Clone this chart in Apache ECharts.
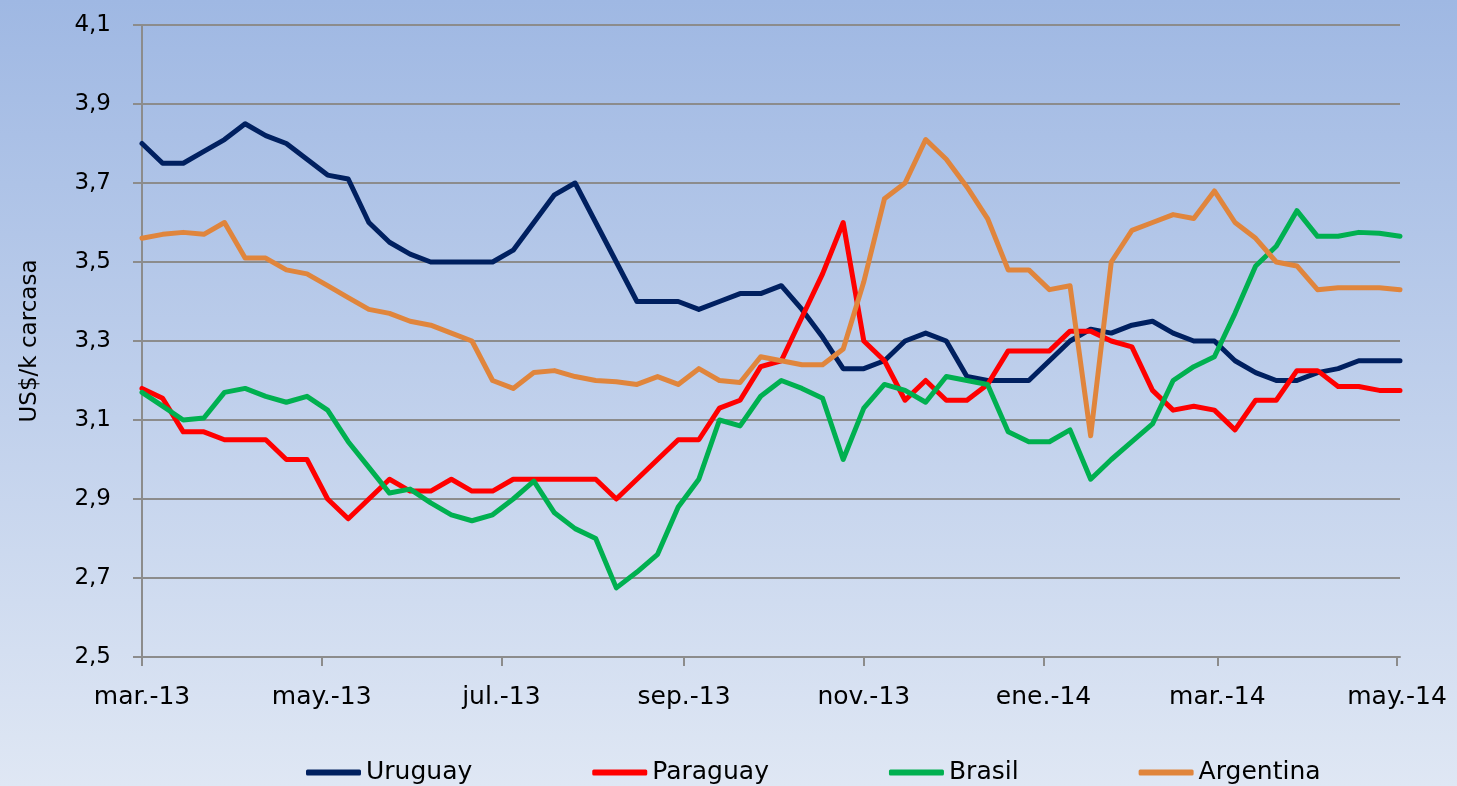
<!DOCTYPE html>
<html>
<head>
<meta charset="utf-8">
<title>Precio novillo US$/k carcasa</title>
<script src="https://cdn.jsdelivr.net/npm/echarts@6/dist/echarts.min.js"></script>
<style>
  html, body { margin: 0; padding: 0; }
  #main { width: 1457px; height: 786px; }
</style>
</head>
<body>
<div id="main"></div>
<script>
var DAY = 86400000;
// datos semanales, primera semana 1-mar-2013
var firstWeek = Date.UTC(2013, 2, 1);

// etiquetas del eje x (cada dos meses)
var tickDates = [
  Date.UTC(2013, 2, 1), Date.UTC(2013, 4, 1), Date.UTC(2013, 6, 1), Date.UTC(2013, 8, 1),
  Date.UTC(2013, 10, 1), Date.UTC(2014, 0, 1), Date.UTC(2014, 2, 1), Date.UTC(2014, 4, 1)
];
var tickLabels = ['mar.-13', 'may.-13', 'jul.-13', 'sep.-13', 'nov.-13', 'ene.-14', 'mar.-14', 'may.-14'];

var uruguay = [
  3.80, 3.75, 3.75, 3.78, 3.81, 3.85, 3.82, 3.80, 3.76, 3.72, 3.71, 3.60, 3.55, 3.52, 3.50, 3.50,
  3.50, 3.50, 3.53, 3.60, 3.67, 3.70, 3.60, 3.50, 3.40, 3.40, 3.40, 3.38, 3.40, 3.42, 3.42, 3.44,
  3.38, 3.31, 3.23, 3.23, 3.25, 3.30, 3.32, 3.30, 3.21, 3.20, 3.20, 3.20, 3.25, 3.30, 3.33, 3.32,
  3.34, 3.35, 3.32, 3.30, 3.30, 3.25, 3.22, 3.20, 3.20, 3.22, 3.23, 3.25, 3.25, 3.25
];
var paraguay = [
  3.18, 3.155, 3.07, 3.07, 3.05, 3.05, 3.05, 3.00, 3.00, 2.90, 2.85, 2.90, 2.95, 2.92, 2.92, 2.95,
  2.92, 2.92, 2.95, 2.95, 2.95, 2.95, 2.95, 2.90, 2.95, 3.00, 3.05, 3.05, 3.13, 3.15, 3.235, 3.25,
  3.36, 3.47, 3.60, 3.30, 3.25, 3.15, 3.20, 3.15, 3.15, 3.19, 3.275, 3.275, 3.275, 3.325, 3.325, 3.30,
  3.285, 3.175, 3.125, 3.135, 3.125, 3.075, 3.15, 3.15, 3.225, 3.225, 3.185, 3.185, 3.175, 3.175
];
var brasil = [
  3.17, 3.135, 3.10, 3.105, 3.17, 3.18, 3.16, 3.145, 3.16, 3.125, 3.045, 2.98, 2.915, 2.925, 2.89, 2.86,
  2.845, 2.86, 2.90, 2.945, 2.865, 2.825, 2.80, 2.675, 2.715, 2.76, 2.88, 2.95, 3.10, 3.085, 3.16, 3.20,
  3.18, 3.155, 3.00, 3.13, 3.19, 3.175, 3.145, 3.21, 3.20, 3.19, 3.07, 3.045, 3.045, 3.075, 2.95, 3.00,
  3.045, 3.09, 3.20, 3.235, 3.26, 3.37, 3.49, 3.54, 3.63, 3.565, 3.565, 3.575, 3.573, 3.565
];
var argentina = [
  3.56, 3.57, 3.575, 3.57, 3.60, 3.51, 3.51, 3.48, 3.47, 3.44, 3.41, 3.38, 3.37, 3.35, 3.34, 3.32,
  3.30, 3.20, 3.18, 3.22, 3.225, 3.21, 3.20, 3.197, 3.19, 3.21, 3.19, 3.23, 3.20, 3.195, 3.26, 3.25,
  3.24, 3.24, 3.28, 3.45, 3.66, 3.70, 3.81, 3.76, 3.69, 3.61, 3.48, 3.48, 3.43, 3.44, 3.06, 3.50,
  3.58, 3.60, 3.62, 3.61, 3.68, 3.60, 3.56, 3.50, 3.49, 3.43, 3.435, 3.435, 3.435, 3.43
];

var names = ['Uruguay', 'Paraguay', 'Brasil', 'Argentina'];
var colors = ['#002060', '#ff0000', '#00b050', '#e0853c'];

// [fecha, valor] por semana
function weekly(arr) {
  return arr.map(function (v, i) { return [firstWeek + i * 7 * DAY, v]; });
}

var font = 'DejaVu Sans';
var gray = '#8c8c8c';

var chart = echarts.init(document.getElementById('main'));
var option = {
  animation: false,
  backgroundColor: {
    type: 'linear', x: 0, y: 0, x2: 0, y2: 1,
    colorStops: [{ offset: 0, color: '#9fb8e3' }, { offset: 1, color: '#dfe7f4' }]
  },
  grid: { left: 142, right: 57, top: 25, bottom: 129 },
  legend: {
    left: 301,
    top: 755,
    icon: 'roundRect',
    itemWidth: 55,
    itemHeight: 6,
    itemGap: 120,
    textStyle: { fontFamily: font, fontSize: 25, color: '#000' },
    data: names
  },
  xAxis: {
    type: 'value',
    min: firstWeek,
    max: firstWeek + (uruguay.length - 1) * 7 * DAY,
    axisLine: { show: true, onZero: false, lineStyle: { color: gray, width: 2 } },
    axisTick: { show: true, length: 9, customValues: tickDates, lineStyle: { color: gray, width: 2 } },
    axisLabel: {
      customValues: tickDates,
      margin: 28,
      fontFamily: font,
      fontSize: 25,
      color: '#000',
      formatter: function (v) { return tickLabels[tickDates.indexOf(v)]; }
    },
    splitLine: { show: false }
  },
  yAxis: {
    type: 'value',
    min: 2.5,
    max: 4.1,
    interval: 0.2,
    name: 'US$/k carcasa',
    nameLocation: 'middle',
    nameRotate: 90,
    nameGap: 100,
    nameTextStyle: { fontFamily: font, fontSize: 23, color: '#000' },
    axisLine: { show: true, lineStyle: { color: gray, width: 2 } },
    axisTick: { show: true, length: 9, lineStyle: { color: gray, width: 2 } },
    axisLabel: {
      margin: 31,
      fontFamily: font,
      fontSize: 23,
      color: '#000',
      formatter: function (v) { return v.toFixed(1).replace('.', ','); }
    },
    splitLine: { lineStyle: { color: gray, width: 2 } }
  },
  series: [uruguay, paraguay, brasil, argentina].map(function (arr, k) {
    return {
      name: names[k],
      type: 'line',
      symbol: 'none',
      data: weekly(arr),
      itemStyle: { color: colors[k] },
      lineStyle: { color: colors[k], width: 5, cap: 'round', join: 'round' }
    };
  })
};
chart.setOption(option);
</script>
</body>
</html>
